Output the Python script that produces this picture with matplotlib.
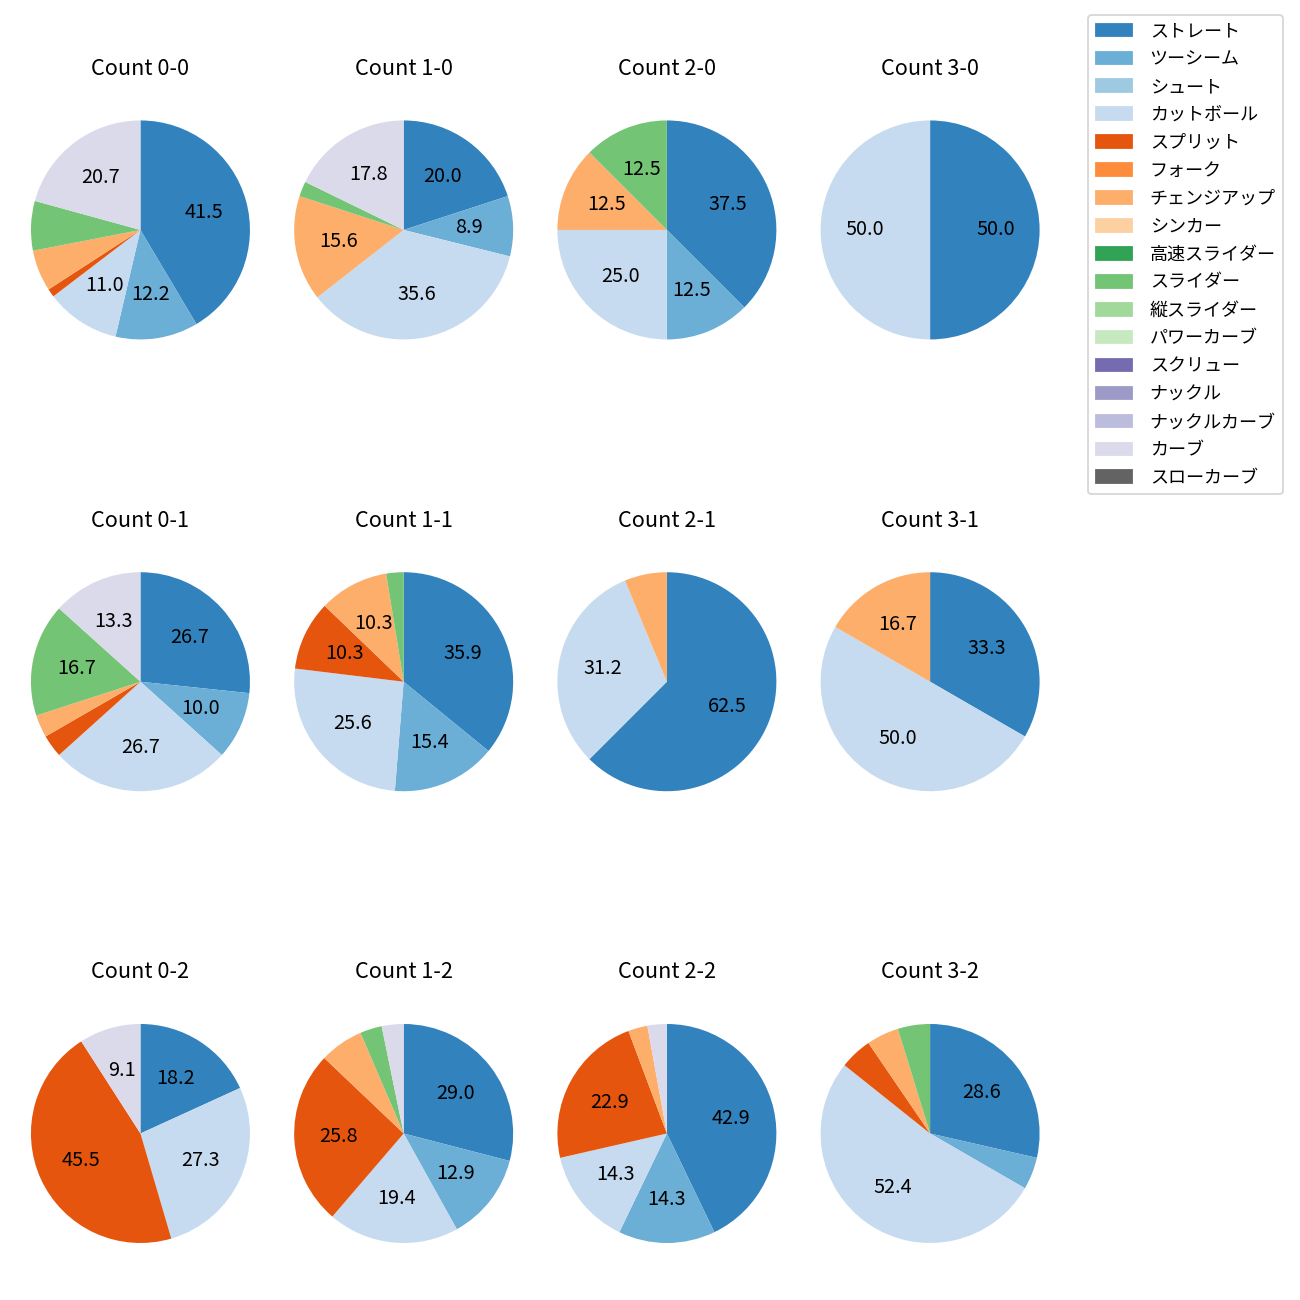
import matplotlib
matplotlib.use("Agg")
import matplotlib.pyplot as plt
from matplotlib.patches import Patch

plt.rcParams['font.family'] = ['Noto Sans CJK JP', 'DejaVu Sans']

pitch_types = ['ストレート', 'ツーシーム', 'シュート', 'カットボール', 'スプリット', 'フォーク',
               'チェンジアップ', 'シンカー', '高速スライダー', 'スライダー', '縦スライダー',
               'パワーカーブ', 'スクリュー', 'ナックル', 'ナックルカーブ', 'カーブ', 'スローカーブ']

balls = [0, 1, 2, 3]
strikes = [0, 1, 2]

# pitch counts per ball-strike count, same order as pitch_types
counts = {
    '0-0': [34, 10, 0, 9, 1, 0, 5, 0, 0, 6, 0, 0, 0, 0, 0, 17, 0],
    '1-0': [9, 4, 0, 16, 0, 0, 7, 0, 0, 1, 0, 0, 0, 0, 0, 8, 0],
    '2-0': [3, 1, 0, 2, 0, 0, 1, 0, 0, 1, 0, 0, 0, 0, 0, 0, 0],
    '3-0': [1, 0, 0, 1, 0, 0, 0, 0, 0, 0, 0, 0, 0, 0, 0, 0, 0],
    '0-1': [8, 3, 0, 8, 1, 0, 1, 0, 0, 5, 0, 0, 0, 0, 0, 4, 0],
    '1-1': [14, 6, 0, 10, 4, 0, 4, 0, 0, 1, 0, 0, 0, 0, 0, 0, 0],
    '2-1': [10, 0, 0, 5, 0, 0, 1, 0, 0, 0, 0, 0, 0, 0, 0, 0, 0],
    '3-1': [2, 0, 0, 3, 0, 0, 1, 0, 0, 0, 0, 0, 0, 0, 0, 0, 0],
    '0-2': [2, 0, 0, 3, 5, 0, 0, 0, 0, 0, 0, 0, 0, 0, 0, 1, 0],
    '1-2': [9, 4, 0, 6, 8, 0, 2, 0, 0, 1, 0, 0, 0, 0, 0, 1, 0],
    '2-2': [15, 5, 0, 5, 8, 0, 1, 0, 0, 0, 0, 0, 0, 0, 0, 1, 0],
    '3-2': [6, 1, 0, 11, 1, 0, 1, 0, 0, 1, 0, 0, 0, 0, 0, 0, 0],
}

colors = [plt.cm.tab20c(i) for i in range(len(pitch_types))]


def fmt(p):
    return '{:.1f}'.format(p) if p >= 8 else ''


fig, axes = plt.subplots(3, 4, figsize=(10, 10), dpi=130)
fig.subplots_adjust(left=0.0068, right=0.8167, top=0.9244, bottom=0.0268,
                    wspace=0, hspace=0.7156)

for r, s in enumerate(strikes):
    for c, b in enumerate(balls):
        ax = axes[r, c]
        key = '{}-{}'.format(b, s)
        ax.pie(counts[key], colors=colors, startangle=90, counterclock=False,
               autopct=fmt, radius=1.04, textprops={'fontsize': 11})
        ax.set_title('Count ' + key, fontsize=12, pad=13)

handles = [Patch(color=col, label=lab) for col, lab in zip(colors, pitch_types)]
fig.legend(handles=handles, loc='upper right', bbox_to_anchor=(0.9938, 0.9954),
           fontsize=10, handletextpad=1.0, labelspacing=0.55)

fig.savefig('out.png', dpi=130)
